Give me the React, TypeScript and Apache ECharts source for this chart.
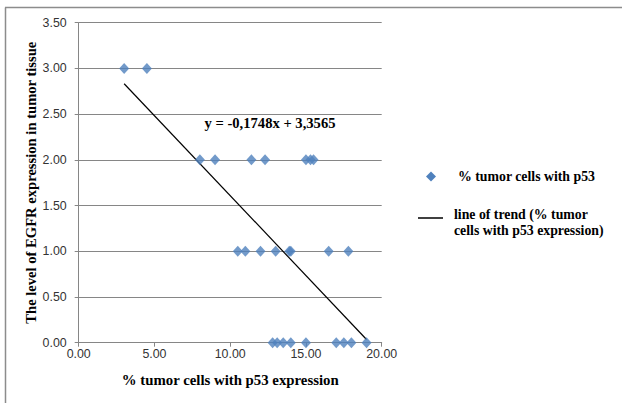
import React, { useEffect, useRef } from "react";
import * as echarts from "echarts";

// % tumor cells with p53 expression (x) and EGFR level (y)
const xValues = [3.0, 4.5, 8.0, 9.0, 11.4, 12.3, 15.0, 15.3, 15.5, 10.5, 11.0, 12.0, 13.0, 13.9, 14.0, 16.5, 17.8, 12.8, 13.1, 13.5, 14.0, 15.0, 17.0, 17.5, 18.0, 19.0];
const yValues = [3, 3, 2, 2, 2, 2, 2, 2, 2, 1, 1, 1, 1, 1, 1, 1, 1, 0, 0, 0, 0, 0, 0, 0, 0, 0];
const trendSlope = -0.1748;
const trendIntercept = 3.3565;
const trendXRange = [3.0, 19.0];
const equationText = "y = -0,1748x + 3,3565";
const scatterName = "% tumor cells with p53";
const trendName = "line of trend (% tumor\ncells with p53 expression)";
const xTitle = "% tumor cells with p53 expression";
const yTitle = "The level of EGFR expression in tumor tissue";

export default function App() {
  const ref = useRef<HTMLDivElement>(null);
  useEffect(() => {
    if (!ref.current) return;
    const chart = echarts.init(ref.current, undefined, { renderer: "svg" });
    const scatterData = xValues.map((x, i) => [x, yValues[i]]);
    const trendData = trendXRange.map((x) => [x, trendSlope * x + trendIntercept]);
    const serif = "Liberation Serif";
    const sans = "Liberation Sans";
    chart.setOption({
      animation: false,
      backgroundColor: "#ffffff",
      grid: { left: 78.7, right: 240.3, top: 22.7, bottom: 60.3 },
      xAxis: {
        type: "value",
        min: 0,
        max: 20,
        interval: 5,
        name: xTitle,
        nameLocation: "middle",
        nameGap: 30,
        nameTextStyle: { fontFamily: serif, fontWeight: "bold", fontSize: 14.8, color: "#000" },
        axisLine: { show: true, lineStyle: { color: "#868686", width: 1 } },
        axisTick: { show: true, length: 4, lineStyle: { color: "#868686" } },
        axisLabel: {
          formatter: (v: number) => v.toFixed(2),
          fontFamily: sans,
          fontSize: 12.4,
          color: "#333333",
          margin: 5,
        },
        splitLine: { show: false },
      },
      yAxis: {
        type: "value",
        min: 0,
        max: 3.5,
        interval: 0.5,
        name: yTitle,
        nameLocation: "middle",
        nameGap: 38,
        nameTextStyle: { fontFamily: serif, fontWeight: "bold", fontSize: 14.6, color: "#000" },
        axisLine: { show: true, lineStyle: { color: "#868686", width: 1 } },
        axisTick: { show: true, length: 4, lineStyle: { color: "#868686" } },
        axisLabel: {
          formatter: (v: number) => v.toFixed(2),
          fontFamily: sans,
          fontSize: 12.4,
          color: "#333333",
          margin: 12,
        },
        splitLine: { show: true, lineStyle: { color: "#868686", width: 1 } },
      },
      series: [
        {
          name: trendName,
          type: "line",
          data: trendData,
          symbol: "none",
          lineStyle: { color: "#000", width: 1.2 },
          z: 2,
        },
        {
          name: scatterName,
          type: "scatter",
          data: scatterData,
          symbol: "diamond",
          symbolSize: [10, 11],
          itemStyle: { color: "#4F81BD" },
          z: 3,
        },
      ],
      graphic: [
        { type: "line", shape: { x1: 5, y1: 7.5, x2: 622, y2: 7.5 }, style: { stroke: "#8c8c8c", lineWidth: 1.5 } },
        { type: "line", shape: { x1: 5.5, y1: 7.5, x2: 5.5, y2: 403 }, style: { stroke: "#8c8c8c", lineWidth: 1.5 } },
        {
          type: "text",
          x: 270,
          y: 123,
          style: { text: equationText, font: `bold 14.6px "${serif}"`, fill: "#000", align: "center", verticalAlign: "middle" },
        },
        { type: "polygon", shape: { points: [[431, 171.5], [436, 176.5], [431, 181.5], [426, 176.5]] }, style: { fill: "#4F81BD" } },
        {
          type: "text",
          x: 458,
          y: 176.5,
          style: { text: scatterName, font: `bold 13.8px "${serif}"`, fill: "#000", align: "left", verticalAlign: "middle" },
        },
        { type: "line", shape: { x1: 418, y1: 218, x2: 443, y2: 218 }, style: { stroke: "#000", lineWidth: 1.5 } },
        {
          type: "text",
          x: 454,
          y: 222.5,
          style: { text: trendName, font: `bold 13.8px "${serif}"`, fill: "#000", align: "left", verticalAlign: "middle", lineHeight: 16 },
        },
      ],
    });
    return () => chart.dispose();
  }, []);
  return <div ref={ref} style={{ position: "absolute", left: 0, top: 0, width: 622, height: 403 }} />;
}
